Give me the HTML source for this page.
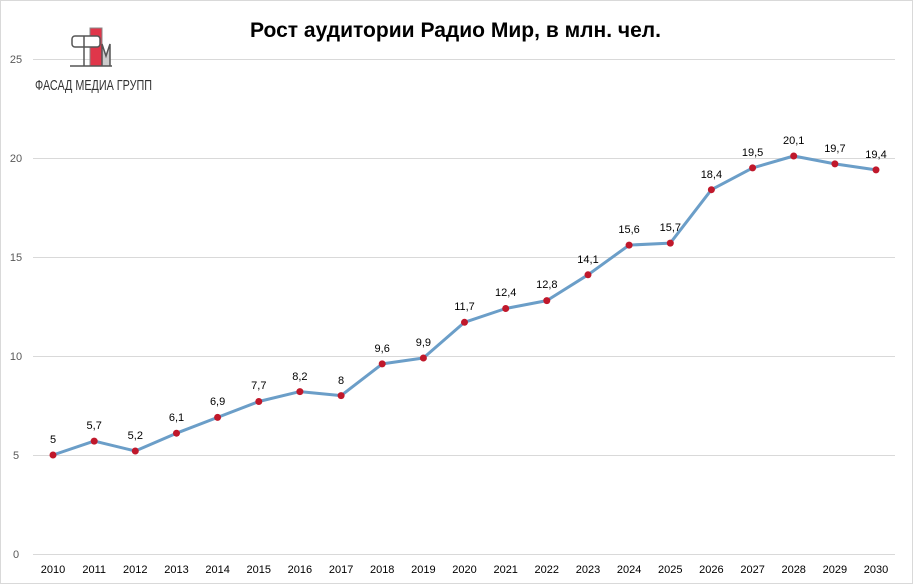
<!DOCTYPE html><html><head><meta charset="utf-8"><style>body{margin:0;background:#fff}svg{display:block;font-family:"Liberation Sans",Arial,sans-serif}</style></head><body>
<svg width="914" height="585" viewBox="0 0 914 585">
<rect x="0.5" y="0.5" width="912" height="583" fill="#fff" stroke="#d9d9d9"/>
<text x="250" y="37" textLength="411" lengthAdjust="spacingAndGlyphs" font-size="21" font-weight="bold" fill="#000">Рост аудитории Радио Мир, в млн. чел.</text>
<g stroke="#d9d9d9" stroke-width="1">
<line x1="33" x2="895" y1="554.5" y2="554.5"/><line x1="33" x2="895" y1="455.5" y2="455.5"/><line x1="33" x2="895" y1="356.5" y2="356.5"/><line x1="33" x2="895" y1="257.5" y2="257.5"/><line x1="33" x2="895" y1="158.5" y2="158.5"/><line x1="33" x2="895" y1="59.5" y2="59.5"/>
</g>
<g font-size="11" fill="#595959" text-anchor="middle">
<text x="16" y="558">0</text><text x="16" y="459">5</text><text x="16" y="360">10</text><text x="16" y="261">15</text><text x="16" y="162">20</text><text x="16" y="63">25</text>
</g>
<g font-size="11" fill="#000" text-anchor="middle">
<text x="53" y="573">2010</text><text x="94.2" y="573">2011</text><text x="135.3" y="573">2012</text><text x="176.5" y="573">2013</text><text x="217.6" y="573">2014</text><text x="258.8" y="573">2015</text><text x="299.9" y="573">2016</text><text x="341.1" y="573">2017</text><text x="382.2" y="573">2018</text><text x="423.4" y="573">2019</text><text x="464.5" y="573">2020</text><text x="505.7" y="573">2021</text><text x="546.8" y="573">2022</text><text x="588" y="573">2023</text><text x="629.1" y="573">2024</text><text x="670.3" y="573">2025</text><text x="711.4" y="573">2026</text><text x="752.6" y="573">2027</text><text x="793.7" y="573">2028</text><text x="834.9" y="573">2029</text><text x="876" y="573">2030</text>
</g>
<polyline fill="none" stroke="#6b9ec8" stroke-width="3" stroke-linejoin="round" points="53,455 94.2,441.1 135.3,451 176.5,433.2 217.6,417.4 258.8,401.5 299.9,391.6 341.1,395.6 382.2,363.9 423.4,358 464.5,322.3 505.7,308.5 546.8,300.6 588,274.8 629.1,245.1 670.3,243.1 711.4,189.7 752.6,167.9 793.7,156 834.9,163.9 876,169.9"/>
<g fill="#c0182b">
<circle cx="53" cy="455" r="3.5"/><circle cx="94.2" cy="441.1" r="3.5"/><circle cx="135.3" cy="451" r="3.5"/><circle cx="176.5" cy="433.2" r="3.5"/><circle cx="217.6" cy="417.4" r="3.5"/><circle cx="258.8" cy="401.5" r="3.5"/><circle cx="299.9" cy="391.6" r="3.5"/><circle cx="341.1" cy="395.6" r="3.5"/><circle cx="382.2" cy="363.9" r="3.5"/><circle cx="423.4" cy="358" r="3.5"/><circle cx="464.5" cy="322.3" r="3.5"/><circle cx="505.7" cy="308.5" r="3.5"/><circle cx="546.8" cy="300.6" r="3.5"/><circle cx="588" cy="274.8" r="3.5"/><circle cx="629.1" cy="245.1" r="3.5"/><circle cx="670.3" cy="243.1" r="3.5"/><circle cx="711.4" cy="189.7" r="3.5"/><circle cx="752.6" cy="167.9" r="3.5"/><circle cx="793.7" cy="156" r="3.5"/><circle cx="834.9" cy="163.9" r="3.5"/><circle cx="876" cy="169.9" r="3.5"/>
</g>
<g font-size="11" fill="#000" text-anchor="middle">
<text x="53" y="443">5</text><text x="94.2" y="429">5,7</text><text x="135.3" y="439">5,2</text><text x="176.5" y="421">6,1</text><text x="217.6" y="405">6,9</text><text x="258.8" y="389">7,7</text><text x="299.9" y="380">8,2</text><text x="341.1" y="384">8</text><text x="382.2" y="352">9,6</text><text x="423.4" y="346">9,9</text><text x="464.5" y="310">11,7</text><text x="505.7" y="296">12,4</text><text x="546.8" y="288">12,8</text><text x="588" y="263">14,1</text><text x="629.1" y="233">15,6</text><text x="670.3" y="231">15,7</text><text x="711.4" y="178">18,4</text><text x="752.6" y="156">19,5</text><text x="793.7" y="144">20,1</text><text x="834.9" y="152">19,7</text><text x="876" y="158">19,4</text>
</g>
<g>
<rect x="90" y="28" width="12" height="38" fill="#e0364a"/>
<rect x="90" y="28" width="12" height="38" fill="none" stroke="#888" stroke-width="1"/>
<rect x="72" y="36" width="28" height="11" rx="3" fill="#fff" stroke="#555" stroke-width="1.5"/>
<line x1="84" y1="36" x2="84" y2="66" stroke="#555" stroke-width="1.5"/>
<polyline points="102,66 102,44 106,56 110,44 110,66" fill="#ccc" stroke="#555" stroke-width="1.5"/>
<line x1="70" y1="66" x2="112" y2="66" stroke="#555" stroke-width="1.5"/>
<text x="35" y="90" textLength="117" lengthAdjust="spacingAndGlyphs" font-size="15" fill="#333">ФАСАД МЕДИА ГРУПП</text>
</g>
</svg>
</body></html>
